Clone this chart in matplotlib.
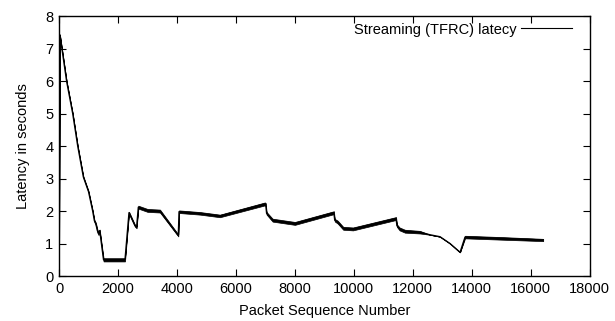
import numpy as np
import matplotlib
matplotlib.use("Agg")
import matplotlib.pyplot as plt

plt.rcParams['font.family'] = ['Liberation Sans', 'DejaVu Sans']

# breakpoints of the latency trace
seq = [0, 30, 260, 464, 634, 825, 1000, 1142, 1200, 1250, 1300, 1340, 1380,
       1510, 1800, 2100, 2237, 2373, 2576, 2630, 2690, 3000, 3424, 4045,
       4070, 4780, 5458, 6983, 7010, 7040, 7244, 8000, 9322, 9350, 9450,
       9638, 9970, 11430, 11460, 11550, 11730, 12240, 12580, 12920, 13260,
       13600, 13770, 15000, 16420]
latency = [0.0, 7.42, 5.98, 5.0, 4.0, 3.05, 2.6, 2.0, 1.7, 1.6, 1.4, 1.3, 1.4,
           0.5, 0.5, 0.5, 0.5, 1.95, 1.55, 1.5, 2.12, 2.02, 2.0, 1.25,
           1.98, 1.93, 1.85, 2.22, 2.2, 1.93, 1.72, 1.62, 1.95, 1.72, 1.66,
           1.47, 1.45, 1.77, 1.55, 1.45, 1.38, 1.35, 1.27, 1.21, 1.0,
           0.73, 1.2, 1.16, 1.11]
# half thickness of the jittery band around the trace
jitter = [0.0, 0.01, 0.01, 0.01, 0.01, 0.02, 0.02, 0.02, 0.03, 0.04, 0.04, 0.04, 0.03,
          0.05, 0.05, 0.05, 0.05, 0.03, 0.03, 0.03, 0.045, 0.045, 0.045, 0.03,
          0.04, 0.04, 0.04, 0.045, 0.045, 0.04, 0.045, 0.045, 0.045, 0.04, 0.045,
          0.045, 0.045, 0.045, 0.04, 0.045, 0.045, 0.04, 0.0, 0.0, 0.0,
          0.0, 0.04, 0.04, 0.035]

x = np.array(seq)
y = np.array(latency)
j = np.array(jitter)

fig = plt.figure(figsize=(6.15, 3.21), dpi=100)
ax = fig.add_axes([0.096, 0.140, 0.863, 0.810])

ax.fill_between(x, y - j, y + j, color="black", linewidth=0.5)
ax.plot(x, y, color="black", linewidth=1.0, label="Streaming (TFRC) latecy")

ax.set_xlim(0, 18000)
ax.set_ylim(0, 8)
ax.set_xticks(range(0, 18001, 2000))
ax.set_yticks(range(0, 9))
ax.tick_params(direction="in", top=True, right=True, length=5, width=0.8,
               labelsize=10.5, pad=4)
for s in ax.spines.values():
    s.set_linewidth(1.0)

ax.set_xlabel("Packet Sequence Number", fontsize=10.5, labelpad=6)
ax.set_ylabel("Latency in seconds", fontsize=10.5, labelpad=11)

leg = ax.legend(loc="upper right", bbox_to_anchor=(0.966, 0.975), frameon=False,
                markerfirst=False, fontsize=10.5, handlelength=3.5,
                borderaxespad=0, borderpad=0, handletextpad=0.3)
leg.get_lines()[0].set_linewidth(0.8)

fig.savefig("out.png", dpi=100)
